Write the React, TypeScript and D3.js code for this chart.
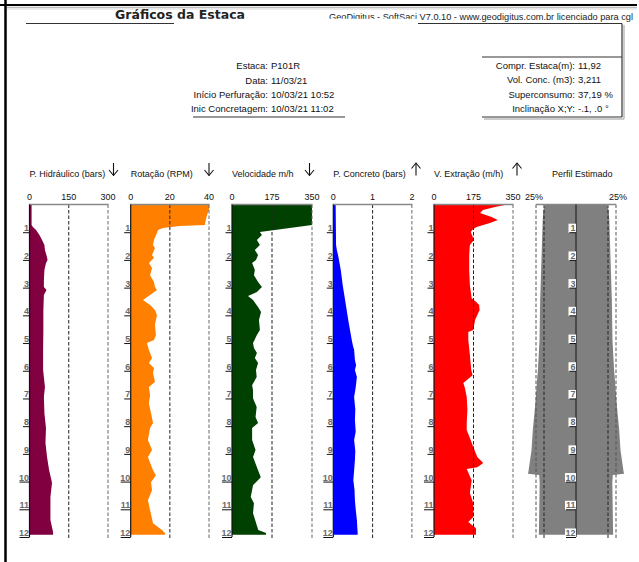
import React from 'react';
import * as d3 from 'd3';

// ---------------- data ----------------
const hidrDepth = [0, 0.74, 0.81, 0.92, 1.1, 1.28, 1.46, 1.64, 1.9, 2.0, 2.11, 2.36, 2.73, 2.98, 3.09, 3.27, 3.81, 4.53, 5.25, 5.97, 6.59, 6.95, 7.53, 8.07, 8.61, 9.11, 9.59, 9.95, 10.05, 10.56, 11.03, 11.39, 11.82, 11.92];
const hidrValue = [8, 8, 13, 25, 38, 48, 57, 59, 67, 69, 63, 57, 55, 55, 65, 55, 53, 53, 52, 52, 59, 55, 57, 63, 61, 67, 75, 84, 86, 80, 80, 80, 90, 90];

const rotDepth = [0, 0.2, 0.38, 0.67, 0.74, 0.78, 0.85, 0.92, 1.03, 1.28, 1.46, 1.57, 1.82, 1.93, 2.11, 2.29, 2.55, 2.8, 2.98, 3.09, 3.27, 3.45, 3.63, 3.81, 3.99, 4.35, 4.71, 4.89, 5.0, 5.25, 5.54, 5.72, 5.9, 6.08, 6.41, 6.59, 6.88, 7.17, 7.53, 7.89, 8.07, 8.5, 8.86, 9.11, 9.59, 9.77, 10.02, 10.31, 10.67, 11.03, 11.5, 11.75, 11.86, 11.92];
const rotValue = [40, 40, 39, 38, 38, 25, 16.5, 14, 13.4, 11.9, 11.4, 12.4, 10.9, 11.9, 9.3, 10.9, 9.9, 11.9, 12.4, 13.4, 9.9, 6.3, 9.9, 12.4, 13.4, 12.4, 12.9, 11.9, 8.3, 9.3, 10.9, 9.3, 11.9, 11.4, 12.4, 9.3, 9.9, 9.3, 10.4, 11.4, 9.9, 8.8, 10.9, 8.8, 11.4, 12.9, 10.4, 10.9, 8.8, 9.9, 11.4, 16, 17.5, 17.5];

const velDepth = [0, 0.67, 0.74, 0.99, 1.1, 1.28, 1.46, 1.64, 1.82, 2.0, 2.11, 2.36, 2.55, 2.8, 2.98, 3.16, 3.3, 3.45, 3.7, 3.88, 4.17, 4.53, 4.71, 5.0, 5.18, 5.36, 5.54, 5.72, 5.97, 6.23, 6.52, 6.7, 6.99, 7.31, 7.67, 7.89, 8.07, 8.5, 8.86, 9.11, 9.59, 9.84, 10.13, 10.56, 10.78, 11.14, 11.57, 11.75, 11.86, 11.92];
const velValue = [350, 350, 350, 122, 131, 109, 122, 100, 114, 105, 88, 100, 96, 114, 131, 109, 70, 92, 114, 127, 118, 122, 109, 92, 96, 109, 100, 114, 105, 108, 88, 92, 92, 108, 103, 114, 88, 88, 103, 92, 114, 126, 92, 82, 96, 92, 108, 115, 149, 149];

const concDepth = [0, 1.46, 1.64, 1.82, 2.0, 2.36, 2.91, 3.45, 4.17, 4.89, 5.1, 5.25, 5.61, 5.8, 5.97, 6.23, 6.6, 6.95, 7.4, 7.78, 8.2, 8.5, 8.9, 9.22, 9.6, 9.95, 10.3, 10.67, 11.0, 11.39, 11.86, 11.92];
const concValue = [0.06, 0.07, 0.09, 0.12, 0.145, 0.19, 0.24, 0.3, 0.38, 0.47, 0.5, 0.53, 0.55, 0.58, 0.55, 0.6, 0.57, 0.53, 0.56, 0.55, 0.57, 0.53, 0.56, 0.55, 0.53, 0.51, 0.54, 0.55, 0.57, 0.6, 0.62, 0.62];

const extrDepth = [0, 0.02, 0.09, 0.2, 0.31, 0.45, 0.56, 0.67, 0.81, 0.88, 0.99, 1.1, 1.28, 1.46, 1.82, 2.36, 2.91, 3.38, 3.52, 3.63, 3.81, 3.99, 4.17, 4.53, 4.6, 4.89, 5.43, 5.97, 6.16, 6.44, 6.62, 6.95, 7.42, 7.89, 8.14, 8.43, 8.75, 9.11, 9.33, 9.48, 9.55, 9.95, 10.41, 10.78, 11.28, 11.46, 11.68, 11.92];
const extrValue = [307, 315, 270, 217, 204, 255, 283, 248, 189, 173, 163, 168, 177, 159, 156, 156, 159, 167, 187, 200, 202, 192, 182, 174, 152, 152, 159, 165, 171, 130, 137, 145, 148, 145, 145, 159, 174, 192, 218, 192, 145, 167, 159, 174, 174, 152, 186, 186];

const perfDepth = [0, 0.2, 0.56, 2.0, 3.45, 4.89, 5.97, 6.23, 7.17, 8.14, 8.86, 9.59, 9.72, 9.76, 10.05, 11.92];
const perfValue = [-3, 2, 4, 8, 12, 14, 19, 21, 27, 35, 39, 48, 50, 15, 13.5, 16];

const depthTicks = [1, 2, 3, 4, 5, 6, 7, 8, 9, 10, 11, 12];
const hidrTicks = [0, 150, 300];
const rotTicks = [0, 20, 40];
const velTicks = [0, 175, 350];
const concTicks = [0, 1, 2];
const extrTicks = [0, 175, 350];
const perfTickLabel = '25%';

const infoLeftLabels = ['Estaca:', 'Data:', 'Início Perfuração:', 'Inic Concretagem:'];
const infoLeftValues = ['P101R', '11/03/21', '10/03/21 10:52', '10/03/21 11:02'];
const infoRightLabels = ['Compr. Estaca(m):', 'Vol. Conc. (m3):', 'Superconsumo:', 'Inclinação X;Y:'];
const infoRightValues = ['11,92', '3,211', '37,19 %', '-.1, .0 °'];

// ---------------- layout ----------------
const W = 639;
const H = 562;
const TOP = 204.5;
const BOTTOM = 537;
const GRID_END = 540;
const FONT = 'Liberation Sans, Arial, sans-serif';
const y = d3.scaleLinear().domain([0, 12]).range([TOP, BOTTOM]);

type PanelDef = {
  left: number; width: number; ticks: number[]; depth: number[]; value: number[];
  color: string; title: string; arrowX: number; up: boolean;
};

const panels: PanelDef[] = [
  { left: 29.5, width: 78.5, ticks: hidrTicks, depth: hidrDepth, value: hidrValue, color: '#800040', title: 'P. Hidráulico (bars)', arrowX: 113.5, up: false },
  { left: 130.7, width: 78.3, ticks: rotTicks, depth: rotDepth, value: rotValue, color: '#ff8000', title: 'Rotação (RPM)', arrowX: 209, up: false },
  { left: 232, width: 80, ticks: velTicks, depth: velDepth, value: velValue, color: '#004000', title: 'Velocidade m/h', arrowX: 309.5, up: false },
  { left: 333.3, width: 78.6, ticks: concTicks, depth: concDepth, value: concValue, color: '#0000ff', title: 'P. Concreto (bars)', arrowX: 416, up: true },
  { left: 434, width: 79, ticks: extrTicks, depth: extrDepth, value: extrValue, color: '#ff0000', title: 'V. Extração (m/h)', arrowX: 517, up: true },
];

function Arrow({ x, up }: { x: number; up: boolean }) {
  const t = 163, b = 175.5;
  const head = up
    ? `M${x - 4.5},${t + 5.5}L${x},${t}L${x + 4.5},${t + 5.5}`
    : `M${x - 4.5},${b - 5.5}L${x},${b}L${x + 4.5},${b - 5.5}`;
  return (
    <g stroke="#111" strokeWidth={1.1} fill="none">
      <line x1={x} x2={x} y1={t} y2={b} />
      <path d={head} />
    </g>
  );
}

function DepthLabels({ ax, boxed }: { ax: number; boxed?: boolean }) {
  return (
    <g>
      {depthTicks.map((t) => {
        const yy = y(t);
        const len = t >= 10 ? 10 : 6.5;
        return (
          <g key={t}>
            {boxed && <rect x={ax - len - 1} y={yy - 8.5} width={len + 1} height={9} fill="#fff" />}
            <text x={ax - 0.5} y={yy - 1} textAnchor="end" fontFamily={FONT} fontSize={9} fontWeight="bold" fill="#6a6a6a">{t}</text>
            <line x1={ax - len} x2={ax} y1={yy + 0.5} y2={yy + 0.5} stroke="#111" strokeWidth={1} />
          </g>
        );
      })}
    </g>
  );
}

function Panel({ p }: { p: PanelDef }) {
  const x = d3.scaleLinear().domain([p.ticks[0], p.ticks[2]]).range([p.left, p.left + p.width]);
  const idx = p.depth.map((_, i) => i);
  const area = d3.area<number>()
    .y((i) => y(p.depth[i]))
    .x0(x(0))
    .x1((i) => x(p.value[i]));
  return (
    <g>
      <text x={p.left} y={176.5} fontFamily={FONT} fontSize={9} fill="#111">{p.title}</text>
      <Arrow x={p.arrowX} up={p.up} />
      {p.ticks.map((t) => (
        <text key={t} x={x(t)} y={200} textAnchor="middle" fontFamily={FONT} fontSize={9} fill="#111">{String(t)}</text>
      ))}
      <path d={area(idx) || ''} fill={p.color} />
      <line x1={x(p.ticks[1])} x2={x(p.ticks[1])} y1={TOP} y2={GRID_END} stroke="#222" strokeWidth={1} strokeDasharray="3.5,2" />
      <line x1={x(p.ticks[2])} x2={x(p.ticks[2])} y1={TOP} y2={GRID_END} stroke="#666" strokeWidth={1} strokeDasharray="3.5,2" />
      <line x1={p.left - 0.5} x2={x(p.ticks[2]) + 0.5} y1={TOP} y2={TOP} stroke="#888" strokeWidth={1.6} />
      <line x1={p.left} x2={p.left} y1={TOP} y2={BOTTOM} stroke="#111" strokeWidth={1.2} />
      <DepthLabels ax={p.left} />
    </g>
  );
}

function Profile() {
  const cx = 576;
  const r = d3.scaleLinear().domain([0, 25]).range([32, 40]);
  const idx = perfDepth.map((_, i) => i);
  const area = d3.area<number>()
    .y((i) => y(perfDepth[i]))
    .x0((i) => cx - r(perfValue[i]))
    .x1((i) => cx + r(perfValue[i]));
  const dashed = [cx - r(25), cx - r(0), cx + r(0), cx + r(25)];
  return (
    <g>
      <text x={552} y={176.5} fontFamily={FONT} fontSize={9} fill="#111">Perfil Estimado</text>
      <text x={cx - r(25) - 2} y={200} textAnchor="middle" fontFamily={FONT} fontSize={9} fill="#111">{perfTickLabel}</text>
      <text x={cx + r(25) + 2} y={200} textAnchor="middle" fontFamily={FONT} fontSize={9} fill="#111">{perfTickLabel}</text>
      <path d={area(idx) || ''} fill="#808080" />
      {dashed.map((dx, i) => (
        <line key={i} x1={dx} x2={dx} y1={TOP} y2={GRID_END} stroke={i === 0 || i === 3 ? '#555' : '#222'} strokeWidth={1} strokeDasharray="3.5,2" />
      ))}
      <line x1={cx - r(25)} x2={cx + r(25)} y1={TOP} y2={TOP} stroke="#888" strokeWidth={1.6} />
      <line x1={cx} x2={cx} y1={TOP} y2={BOTTOM} stroke="#333" strokeWidth={1.4} />
      <DepthLabels ax={cx} boxed />
    </g>
  );
}

export default function App() {
  const rowsY = [69, 83.5, 98, 112];
  return (
    <svg width={W} height={H} viewBox={`0 0 ${W} ${H}`} style={{ position: 'absolute', left: 0, top: 0, background: '#fff' }}>
      <rect x={0} y={0} width={W} height={H} fill="#fff" />
      {/* page frame */}
      <line x1={0} x2={637} y1={5} y2={5} stroke="#000" strokeWidth={2.2} />
      <line x1={7} x2={637} y1={7.5} y2={7.5} stroke="#bbb" strokeWidth={1.5} />
      <line x1={7} x2={637} y1={9} y2={9} stroke="#e6e6e6" strokeWidth={1.5} />
      <line x1={5.5} x2={5.5} y1={0} y2={H} stroke="#000" strokeWidth={2.5} />

      {/* header */}
      <text x={115} y={19} fontFamily="DejaVu Sans, Verdana, sans-serif" fontSize={11.5} fontWeight="bold" fill="#222" textLength={130} lengthAdjust="spacingAndGlyphs">Gráficos da Estaca</text>
      <text x={329} y={19.5} fontFamily={FONT} fontSize={9} fill="#222" textLength={304} lengthAdjust="spacingAndGlyphs">GeoDigitus - SoftSaci V7.0.10 - www.geodigitus.com.br licenciado para cgl</text>
      <rect x={174} y={18.8} width={244} height={6} fill="#fff" />
      <line x1={26} x2={174} y1={23.5} y2={23.5} stroke="#333" strokeWidth={1} />

      {/* left info block */}
      {infoLeftLabels.map((l, i) => (
        <g key={l}>
          <text x={268} y={rowsY[i]} textAnchor="end" fontFamily={FONT} fontSize={9.5} fill="#111">{l}</text>
          <text x={271} y={rowsY[i]} fontFamily={FONT} fontSize={9.5} fill="#111">{infoLeftValues[i]}</text>
        </g>
      ))}
      <line x1={193} x2={345} y1={117} y2={117} stroke="#333" strokeWidth={1.2} />

      {/* right info box */}
      <line x1={418} x2={622} y1={23.5} y2={23.5} stroke="#333" strokeWidth={1} />
      <line x1={622} x2={622} y1={23.5} y2={117} stroke="#333" strokeWidth={1.2} />
      <line x1={624} x2={624} y1={25} y2={119} stroke="#bbb" strokeWidth={1.5} />
      <line x1={482} x2={622} y1={57} y2={57} stroke="#333" strokeWidth={1.2} />
      <line x1={482} x2={622} y1={117} y2={117} stroke="#333" strokeWidth={1.2} />
      <line x1={484} x2={624} y1={119} y2={119} stroke="#bbb" strokeWidth={1.5} />
      {infoRightLabels.map((l, i) => (
        <g key={l}>
          <text x={575} y={rowsY[i] - 0.5} textAnchor="end" fontFamily={FONT} fontSize={9.5} fill="#111">{l}</text>
          <text x={578} y={rowsY[i] - 0.5} fontFamily={FONT} fontSize={9.5} fill="#111">{infoRightValues[i]}</text>
        </g>
      ))}

      {panels.map((p) => <Panel key={p.title} p={p} />)}
      <Profile />
    </svg>
  );
}
